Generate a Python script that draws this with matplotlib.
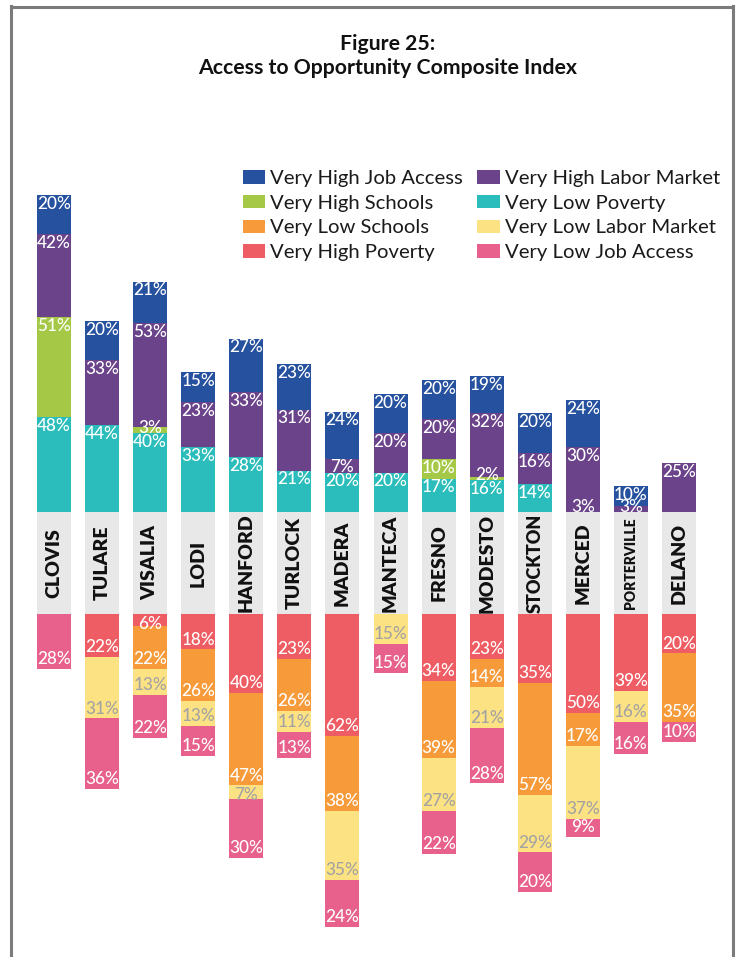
import matplotlib
matplotlib.use("Agg")
import matplotlib.pyplot as plt
from matplotlib.patches import Patch, Rectangle
from matplotlib.lines import Line2D

plt.rcParams["font.family"] = ["Lato", "DejaVu Sans"]

cities = ["CLOVIS", "TULARE", "VISALIA", "LODI", "HANFORD", "TURLOCK", "MADERA",
          "MANTECA", "FRESNO", "MODESTO", "STOCKTON", "MERCED", "PORTERVILLE", "DELANO"]

# Stacked upward from the name band (bottom to top)
low_poverty  = [48, 44, 40, 33, 28, 21, 20, 20, 17, 16, 14, 0, 0, 0]
high_schools = [51, 0, 3, 0, 0, 0, 0, 0, 10, 2, 0, 0, 0, 0]
labor_split  = [0, 0, 0, 0, 0, 0, 0, 0, 0, 0, 0, 3, 0, 0]
high_labor   = [42, 33, 53, 23, 33, 31, 7, 20, 20, 32, 16, 30, 3, 25]
high_job     = [20, 20, 21, 15, 27, 23, 24, 20, 20, 19, 20, 24, 10, 0]

# Stacked downward from the name band (top to bottom)
high_poverty = [0, 22, 6, 18, 40, 23, 62, 0, 34, 23, 35, 50, 39, 20]
low_schools  = [0, 0, 22, 26, 47, 26, 38, 0, 39, 14, 57, 17, 0, 35]
low_labor    = [0, 31, 13, 13, 7, 11, 35, 15, 27, 21, 29, 37, 16, 0]
low_job      = [28, 36, 22, 15, 30, 13, 24, 15, 22, 28, 20, 9, 16, 10]

C_JOB_HI = "#26519e"
C_LAB_HI = "#6a438b"
C_SCH_HI = "#a5c946"
C_POV_LO = "#2bbdbb"
C_SCH_LO = "#f79b3a"
C_LAB_LO = "#fde283"
C_POV_HI = "#ef5d64"
C_JOB_LO = "#e8608c"

# Layout (pixels on a 740 x 957 canvas)
W, H = 740, 957
PX_UNIT = 1.97          # pixels per percentage point
X0_PX, STEP_PX = 54, 48.08
BASE_PX = 512           # top edge of the name band, from the top
BAND = 102 / PX_UNIT    # height of the name band in data units
BAR_W = 34 / STEP_PX

fig = plt.figure(figsize=(W / 100, H / 100), dpi=100)
ax = fig.add_axes([0, 0, 1, 1])
ax.set_xlim(-X0_PX / STEP_PX, (W - X0_PX) / STEP_PX)
ax.set_ylim(-(H - BASE_PX) / PX_UNIT, BASE_PX / PX_UNIT)
ax.axis("off")

x = list(range(len(cities)))
LABEL_FS = 12.3


def label(xi, y, v, color, va, dy):
    ax.annotate(f"{v}%", xy=(xi, y), xytext=(0, dy), textcoords="offset points",
                ha="center", va=va, color=color, fontsize=LABEL_FS,
                fontweight="medium", zorder=4)


# Upper stacks
up_series = [(low_poverty, C_POV_LO), (high_schools, C_SCH_HI),
             (labor_split, C_LAB_HI), (high_labor, C_LAB_HI), (high_job, C_JOB_HI)]
cum = [0.0] * len(cities)
for vals, col in up_series:
    ax.bar(x, vals, bottom=cum, width=BAR_W, color=col, linewidth=0, zorder=2)
    for i, v in enumerate(vals):
        if v == 0:
            continue
        if v < 8:
            label(i, cum[i], v, "white", "baseline", 0.2)
        else:
            label(i, cum[i] + v, v, "white", "top", -0.6)
    cum = [c + v for c, v in zip(cum, vals)]

# Lower stacks
down_series = [(high_poverty, C_POV_HI, "white"), (low_schools, C_SCH_LO, "white"),
               (low_labor, C_LAB_LO, "#a3a3a3"), (low_job, C_JOB_LO, "white")]
cum = [-BAND] * len(cities)
for vals, col, tcol in down_series:
    ax.bar(x, [-v for v in vals], bottom=cum, width=BAR_W, color=col, linewidth=0, zorder=2)
    for i, v in enumerate(vals):
        if v == 0:
            continue
        if v < 8:
            label(i, cum[i], v, tcol, "top", -1.5)
        else:
            label(i, cum[i] - v, v, tcol, "baseline", 3.5)
    cum = [c - v for c, v in zip(cum, vals)]

# Name band
name_size = {"PORTERVILLE": 10, "STOCKTON": 13}
for i, name in enumerate(cities):
    ax.add_patch(Rectangle((i - BAR_W / 2, -BAND), BAR_W, BAND,
                           facecolor="#e8e8e8", edgecolor="none", zorder=1))
    ax.text(i, -BAND / 2, name, rotation=90, ha="center", va="center",
            fontsize=name_size.get(name, 14), fontweight="heavy", color="#111111",
            zorder=3)

# Legend
handles = [Patch(facecolor=c, edgecolor="none", label=l) for c, l in [
    (C_JOB_HI, "Very High Job Access"), (C_SCH_HI, "Very High Schools"),
    (C_SCH_LO, "Very Low Schools"), (C_POV_HI, "Very High Poverty"),
    (C_LAB_HI, "Very High Labor Market"), (C_POV_LO, "Very Low Poverty"),
    (C_LAB_LO, "Very Low Labor Market"), (C_JOB_LO, "Very Low Job Access")]]
fig.legend(handles=handles, ncol=2, loc="upper left",
           bbox_to_anchor=(243 / W, 1 - 170 / H), bbox_transform=fig.transFigure,
           frameon=False, fontsize=14.6, borderpad=0, borderaxespad=0,
           handlelength=1.1, handleheight=0.65, handletextpad=0.25,
           columnspacing=0.7, labelspacing=0.38, labelcolor="#1a1a1a")

# Title
fig.text(388 / W, 1 - 44 / H, "Figure 25:", ha="center", va="center",
         fontsize=15.3, fontweight="bold", color="#111111")
fig.text(388 / W, 1 - 68 / H, "Access to Opportunity Composite Index", ha="center",
         va="center", fontsize=15.3, fontweight="bold", color="#111111")

# Frame on left, top and right
fc = "#7b7b7b"
lw = 2.2
fig.add_artist(Line2D([11 / W, 11 / W], [0, 1 - 6 / H], color=fc, lw=lw,
                      solid_capstyle="projecting"))
fig.add_artist(Line2D([11 / W, 732.5 / W], [1 - 6.5 / H, 1 - 6.5 / H], color=fc, lw=lw))
fig.add_artist(Line2D([732.5 / W, 732.5 / W], [0, 1 - 6 / H], color=fc, lw=lw,
                      solid_capstyle="projecting"))

fig.savefig("out.png", dpi=100)
